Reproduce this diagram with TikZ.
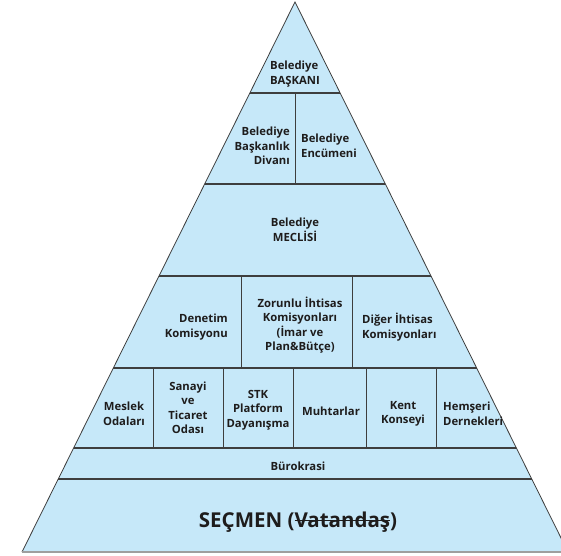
\documentclass[tikz,border=0pt]{standalone}
\usepackage{fontspec}
\setmainfont{Open Sans}
\newcommand{\strikeword}[1]{\setbox0=\hbox{#1}\rlap{\rule[0.3em]{\wd0}{1.5pt}}\box0}
\definecolor{pyrfill}{RGB}{198,232,249}
\definecolor{pyrline}{RGB}{62,62,62}
\definecolor{pyrtext}{RGB}{30,28,28}
\tikzset{lbl/.style={font=\bfseries\fontsize{11.3}{14.5}\selectfont, text=pyrtext, inner sep=0pt}}

\begin{document}
\begin{tikzpicture}[x=1pt,y=-1pt]
  \useasboundingbox (0,0) rectangle (561,555);
  \clip (0,0) rectangle (561,555);
   \coordinate (Apex) at (295,2);
   \coordinate (Bleft) at (22,552);
   \coordinate (Bright) at (568,552);
  \fill[pyrfill] (Apex) -- (Bleft) -- (Bright) -- cycle;
  \begin{scope}
    \clip (Apex) -- (Bleft) -- (Bright) -- cycle;
    % floors of the pyramid
    \foreach \y in {93,184,276,368,448,479}
      \draw[pyrline,line width=1.2pt] (0,\y) -- (561,\y);
    % walls inside each floor
    \foreach \x/\ya/\yb in {295/93/184, 241/276/368, 352/276/368,
        153/368/448, 223/368/448, 293/368/448, 366/368/448, 436/368/448}
      \draw[pyrline,line width=1pt] (\x,\ya) -- (\x,\yb);
  \end{scope}
  \draw[pyrline,line width=0.8pt] (Bleft) -- (Apex) -- (Bright);
  \draw[gray!75,line width=2pt] (Bleft) -- (Bright);

  \node[lbl,align=left] (baskan) at (295,74) {Belediye\\BAŞKANI};
  \node[lbl,align=right,anchor=east] (divan) at (290,146) {Belediye\\Başkanlık\\Divanı};
  \node[lbl,align=left,anchor=west] (encumen) at (301,146) {Belediye\\Encümeni};
  \node[lbl,align=center] (meclis) at (295,230) {Belediye\\MECLİSİ};
  \node[lbl,align=right,anchor=east] (denetim) at (228,327) {Denetim\\Komisyonu};
  \node[lbl,align=center] (zorunlu) at (300,325) {Zorunlu İhtisas\\Komisyonları\\(İmar ve\\Plan\&Bütçe)};
  \node[lbl,align=left,anchor=west] (diger) at (362,327) {Diğer İhtisas\\Komisyonları};
  \node[lbl,align=center] (meslek) at (124,414) {Meslek\\Odaları};
  \node[lbl,align=center] (sanayi) at (188,408) {Sanayi\\ve\\Ticaret\\Odası};
  \node[lbl,align=center] (stk) at (258,410) {STK\\Platform\\Dayanışma};
  \node[lbl] (muhtar) at (331,411) {Muhtarlar};
  \node[lbl,align=center] (kent) at (403,414) {Kent\\Konseyi};
  \node[lbl,align=left,anchor=west] (hemseri) at (443,414) {Hemşeri\\Dernekleri};
  \node[lbl] (buro) at (298,466) {Bürokrasi};
  \node[lbl,font=\bfseries\fontsize{20.5}{24}\selectfont] (secmen) at (298,522) {SEÇMEN (\strikeword{Vatandaş})};
\end{tikzpicture}
\end{document}
